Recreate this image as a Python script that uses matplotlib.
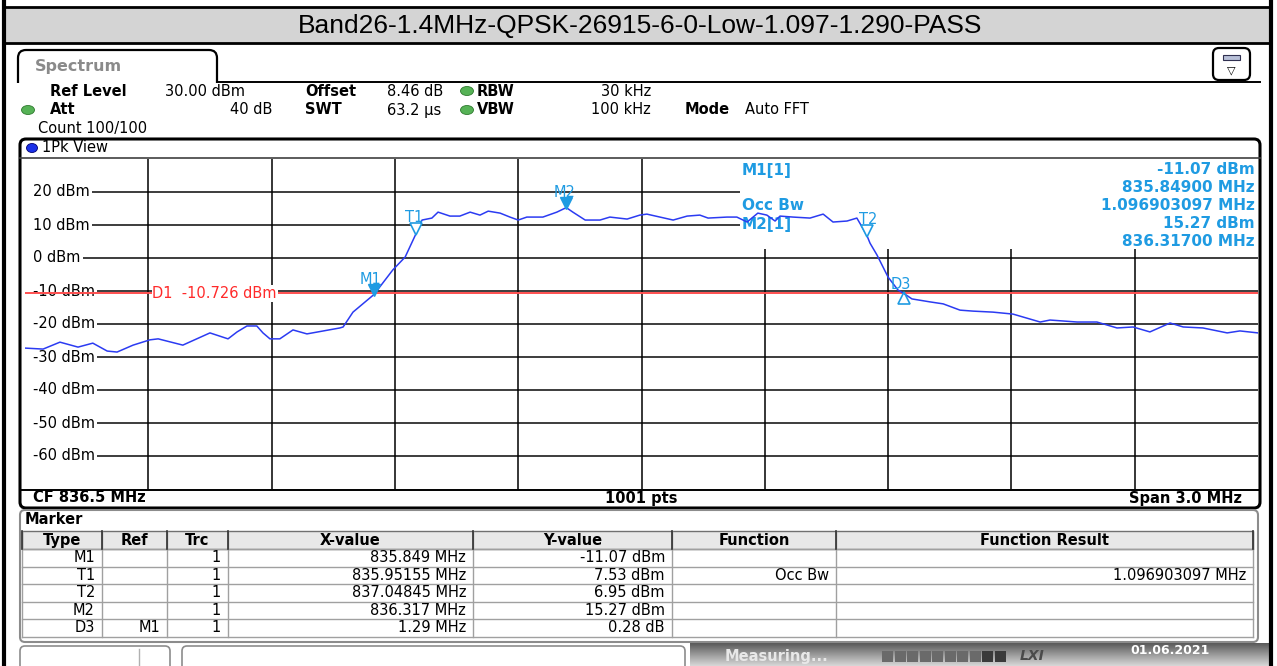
import matplotlib
matplotlib.use('Agg')
import numpy as np
import matplotlib.pyplot as plt
from matplotlib.patches import FancyBboxPatch, Rectangle, Ellipse
from matplotlib.colors import LinearSegmentedColormap
from matplotlib import transforms

title = "Band26-1.4MHz-QPSK-26915-6-0-Low-1.097-1.290-PASS"

# trace (MHz, dBm)
freq = [835.000, 835.044, 835.085, 835.129, 835.165, 835.200, 835.224, 835.263,
        835.304, 835.324, 835.384, 835.450, 835.494, 835.516, 835.540, 835.564,
        835.579, 835.596, 835.620, 835.652, 835.686, 835.766, 835.774, 835.798,
        835.849, 835.895, 835.925, 835.952, 835.966, 835.990, 836.005, 836.034,
        836.058, 836.083, 836.107, 836.127, 836.156, 836.180, 836.200, 836.221,
        836.260, 836.294, 836.317, 836.333, 836.363, 836.399, 836.423, 836.465,
        836.496, 836.513, 836.545, 836.577, 836.611, 836.642, 836.662, 836.708,
        836.732, 836.757, 836.783, 836.805, 836.825, 836.837, 836.869, 836.910,
        836.942, 836.966, 837.000, 837.024, 837.048, 837.056, 837.073, 837.100,
        837.124, 837.139, 837.158, 837.202, 837.234, 837.275, 837.307, 837.355,
        837.404, 837.470, 837.494, 837.560, 837.608, 837.657, 837.696, 837.737,
        837.786, 837.818, 837.866, 837.925, 837.956, 838.000]
level = [-27.3, -27.6, -25.5, -27.0, -25.8, -28.2, -28.5, -26.4,
         -24.8, -24.5, -26.4, -22.7, -24.5, -22.4, -20.6, -20.6,
         -22.7, -24.5, -24.5, -21.8, -23.0, -21.2, -20.9, -16.4,
         -11.07, -3.6, 0.3, 7.53, 11.5, 12.1, 13.9, 12.7,
         12.7, 13.9, 13.0, 14.2, 13.6, 12.4, 11.5, 12.4,
         12.4, 13.9, 15.27, 13.9, 11.5, 11.5, 12.4, 11.8,
         13.0, 13.3, 12.4, 11.5, 12.7, 13.0, 12.1, 12.4,
         12.4, 10.9, 13.6, 13.0, 11.2, 12.7, 12.4, 12.1,
         13.3, 10.9, 11.2, 12.1, 6.95, 4.5, 0.9, -5.8,
         -9.7, -10.79, -12.4, -13.3, -13.9, -15.8, -16.1, -16.4,
         -17.0, -19.4, -18.8, -19.4, -19.4, -21.2, -20.9, -22.4,
         -19.7, -20.9, -21.2, -22.7, -22.1, -22.7]

grid_db = [20, 10, 0, -10, -20, -30, -40, -50, -60]
grid_mhz = [835.3, 835.6, 835.9, 836.2, 836.5, 836.8, 837.1, 837.4, 837.7]
d1_level = -10.726

mk_name = ['M1', 'T1', 'T2', 'M2', 'D3']
mk_freq = [835.849, 835.95155, 837.04845, 836.317, 837.139]
mk_level = [-11.07, 7.53, 6.95, 15.27, -10.79]
mk_ref = ['', '', '', '', 'M1']
mk_trc = ['1', '1', '1', '1', '1']
mk_xval = ['835.849 MHz', '835.95155 MHz', '837.04845 MHz', '836.317 MHz', '1.29 MHz']
mk_yval = ['-11.07 dBm', '7.53 dBm', '6.95 dBm', '15.27 dBm', '0.28 dB']
mk_func = ['', 'Occ Bw', '', '', '']
mk_result = ['', '1.096903097 MHz', '', '', '']

info_left = ['M1[1]', 'Occ Bw', 'M2[1]']
info_right = ['-11.07 dBm', '835.84900 MHz', '1.096903097 MHz', '15.27 dBm', '836.31700 MHz']

W, H = 1277, 666
fig = plt.figure(figsize=(W / 100, H / 100), dpi=100)
fig.patch.set_facecolor('white')
plt.rcParams['font.family'] = 'DejaVu Sans'

bg = fig.add_axes([0, 0, 1, 1])
bg.axis('off')

mcol = '#1f9be2'
fs = 10.5

# outer frame and title bar
bg.add_patch(Rectangle((4, 7), 1267, 36, fc='#d4d4d4', ec='black', lw=2))
bg.plot([4, 4], [0, H], color='black', lw=3)
bg.plot([1271, 1271], [0, H], color='black', lw=3)
bg.text(640, 26, title, ha='center', va='center', fontsize=19, family='Liberation Sans')

# spectrum tab
bg.add_patch(FancyBboxPatch((18, 50), 199, 44, boxstyle='round,pad=0,rounding_size=8',
                            fc='white', ec='black', lw=1.6))
bg.add_patch(Rectangle((15, 83), 206, 14, fc='white', ec='none', zorder=3))
bg.plot([217, 1260], [82, 82], color='black', lw=1.4, zorder=4)
bg.text(35, 66, 'Spectrum', fontsize=11.5, color='#8a8a8a', fontweight='bold', va='center')

# icon box top right
bg.add_patch(FancyBboxPatch((1213, 48), 37, 32, boxstyle='round,pad=0,rounding_size=6',
                            fc='white', ec='black', lw=1.6))
bg.add_patch(Rectangle((1223, 55), 17, 5, fc='#b8c0d8', ec='#303050', lw=0.8))
bg.text(1231.5, 70, '\u25BD', ha='center', va='center', fontsize=8)

# settings header
def hdr(x, y, s, bold=False, ha='left'):
    bg.text(x, y, s, fontsize=fs, fontweight='bold' if bold else 'normal', ha=ha, va='center')

hdr(50, 91, 'Ref Level', True)
hdr(165, 91, '30.00 dBm')
hdr(305, 91, 'Offset', True)
hdr(387, 91, '8.46 dB')
hdr(477, 91, 'RBW', True)
hdr(651, 91, '30 kHz', ha='right')
hdr(50, 110, 'Att', True)
hdr(272, 110, '40 dB', ha='right')
hdr(305, 110, 'SWT', True)
hdr(387, 110, '63.2 \u00b5s')
hdr(477, 110, 'VBW', True)
hdr(651, 110, '100 kHz', ha='right')
hdr(685, 110, 'Mode', True)
hdr(745, 110, 'Auto FFT')
hdr(38, 128, 'Count 100/100')
for cx, cy in [(467, 91), (467, 110), (28, 110)]:
    bg.add_patch(Ellipse((cx, cy), 13, 9, fc='#56b256', ec='#2f7a2f', lw=0.6))

# plot panel
bg.add_patch(FancyBboxPatch((20, 139), 1240, 369, boxstyle='round,pad=0,rounding_size=6',
                            fc='white', ec='black', lw=2.2))
bg.plot([20, 1260], [157.5, 157.5], color='#404040', lw=1.2)
bg.plot([20, 1260], [489.5, 489.5], color='black', lw=1.4)
bg.add_patch(Ellipse((32, 148), 11, 9, fc='#1a30e8', ec='#000070', lw=0.6))
bg.text(42, 148, '1Pk View', fontsize=fs, va='center')
bg.text(33, 498, 'CF 836.5 MHz', fontsize=fs, fontweight='bold', va='center')
bg.text(641, 498, '1001 pts', fontsize=fs, fontweight='bold', va='center', ha='center')
bg.text(1242, 498, 'Span 3.0 MHz', fontsize=fs, fontweight='bold', va='center', ha='right')

# marker table
bg.add_patch(FancyBboxPatch((20, 510), 1238, 132, boxstyle='round,pad=0,rounding_size=5',
                            fc='white', ec='#8c8c8c', lw=1.5))
bg.text(25, 520, 'Marker', fontsize=fs, fontweight='bold', va='center')
bg.add_patch(Rectangle((22, 531), 1231, 18, fc='#e8e8e8', ec='#707070', lw=1))
col_edges = [22, 102, 167, 228, 473, 672, 836, 1253]
headers = ['Type', 'Ref', 'Trc', 'X-value', 'Y-value', 'Function', 'Function Result']
row_lines = [549, 566.5, 584, 601.5, 619, 637]
for yl in row_lines:
    bg.plot([22, 1253], [yl, yl], color='#a0a0a0', lw=1)
for xc in col_edges:
    bg.plot([xc, xc], [531, 637], color='#a0a0a0', lw=1)
    bg.plot([xc, xc], [531, 549], color='#303030', lw=1.2)
for i, h in enumerate(headers):
    bg.text((col_edges[i] + col_edges[i + 1]) / 2, 540.5, h, fontsize=fs,
            fontweight='bold', ha='center', va='center')
columns = [mk_name, mk_ref, mk_trc, mk_xval, mk_yval, mk_func, mk_result]
for r in range(len(mk_name)):
    yc = (row_lines[r] + row_lines[r + 1]) / 2
    for c, col in enumerate(columns):
        if col[r]:
            bg.text(col_edges[c + 1] - 7, yc, col[r], fontsize=fs, ha='right', va='center')

# status bar (cut off)
bg.add_patch(FancyBboxPatch((20, 646), 150, 30, boxstyle='round,pad=0,rounding_size=5',
                            fc='white', ec='#8c8c8c', lw=1.2))
bg.plot([139, 139], [649, 666], color='#b0b0b0', lw=1)
bg.add_patch(FancyBboxPatch((182, 646), 503, 30, boxstyle='round,pad=0,rounding_size=5',
                            fc='white', ec='#8c8c8c', lw=1.2))
grad = np.linspace(0, 1, 30).reshape(-1, 1)
cm = LinearSegmentedColormap.from_list('bar', ['#5a5a5a', '#9a9a9a', '#d6d6d6'])
bg.imshow(grad, extent=(690, 1270, 666, 643), cmap=cm, aspect='auto', origin='upper')
bg.text(725, 657, 'Measuring...', fontsize=fs, color='#e8e8e8', fontweight='bold', va='center')
for k in range(10):
    bg.add_patch(Rectangle((882 + k * 12.5, 651), 11, 11,
                           fc='#3a3a3a' if k >= 8 else '#6a6a6a', ec='none'))
bg.text(1020, 656, 'LXI', fontsize=10, fontstyle='italic', fontweight='bold', color='#4a4a4a', va='center')
bg.text(1170, 651, '01.06.2021', fontsize=9, color='white', fontweight='bold', va='center', ha='center')

bg.set_xlim(0, W)
bg.set_ylim(H, 0)

# spectrum trace axes
ax = fig.add_axes([25 / W, 1 - 489 / H, 1233 / W, 330 / H])
ax.set_xlim(835, 838)
ax.set_ylim(-70, 30)
ax.axis('off')
for lv in grid_db:
    ax.axhline(lv, color='#3c3c3c', lw=1.4, zorder=1)
    ax.text(835.02, lv, '%d dBm' % lv, fontsize=fs, va='center', ha='left', zorder=3,
            bbox=dict(fc='white', ec='none', pad=1.5))
for f in grid_mhz:
    ax.axvline(f, color='black', lw=1.1, zorder=1)
# blank strip left of the level labels
ax.add_patch(Rectangle((835, -70), 0.022, 100, fc='white', ec='none', zorder=2))

# marker info box in the upper right
ax.add_patch(Rectangle((836.74, 2.6), 1.26, 27.4, fc='white', ec='none', zorder=2))
for s, y in zip(info_left, [170, 206, 224]):
    ax.text(742, y, s, transform=bg.transData, fontsize=11, fontweight='bold',
            color=mcol, va='center', zorder=3)
for s, y in zip(info_right, [170, 187.5, 205, 223, 241]):
    ax.text(1255, y, s, transform=bg.transData, fontsize=11, fontweight='bold',
            color=mcol, va='center', ha='right', zorder=3)

ax.axhline(d1_level, color='#ff5050', lw=1.4, zorder=5)
ax.text(835.31, d1_level, 'D1  %.3f dBm' % d1_level, color='#ff2a2a', fontsize=fs,
        va='center', zorder=6, bbox=dict(fc='white', ec='none', pad=0.5))

ax.plot(freq, level, color='#2b3bf2', lw=1.1, zorder=7)

# marker symbols and labels
up = transforms.offset_copy(ax.transData, fig=fig, x=0, y=4.5, units='dots')
down = transforms.offset_copy(ax.transData, fig=fig, x=0, y=-4.5, units='dots')
lab_off = {'M1': (-3, 15), 'T1': (-2, 16), 'M2': (-2, 15.5), 'T2': (1, 16), 'D3': (-3, 9)}
for name, f, l in zip(mk_name, mk_freq, mk_level):
    if name.startswith('M'):
        ax.plot(f, l, marker='v', ms=9, color=mcol, transform=up, zorder=8)
    elif name.startswith('T'):
        ax.plot(f, l, marker='v', ms=9, mfc='white', mec=mcol, mew=1.2, transform=up, zorder=8)
    else:
        ax.plot(f, l, marker='^', ms=9, mfc='none', mec=mcol, mew=1.2, transform=down, zorder=8)
    ax.annotate(name, (f, l), xytext=lab_off[name], textcoords='offset pixels',
                color=mcol, fontsize=fs, ha='center', va='center', zorder=9)

fig.savefig('out.png', dpi=100)
